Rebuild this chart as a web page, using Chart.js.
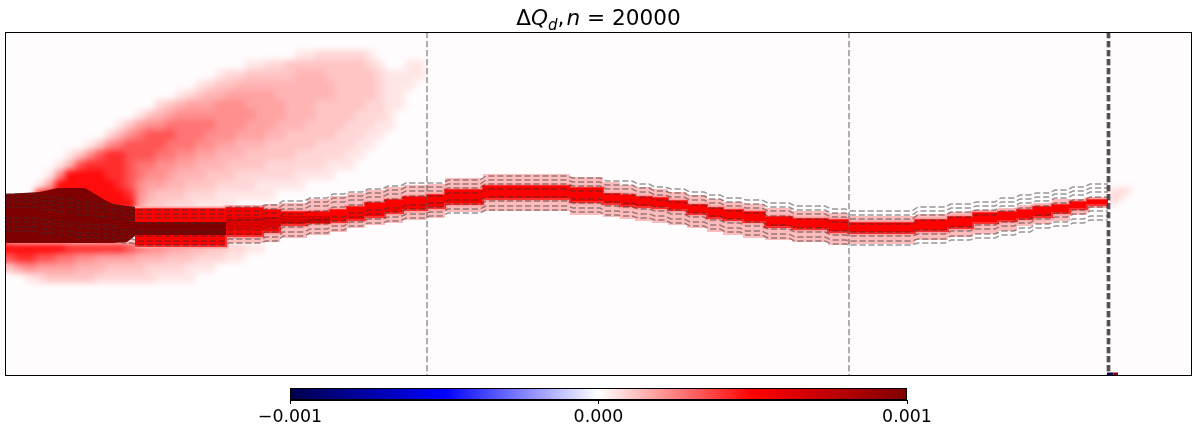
<!DOCTYPE html>
<html><head><meta charset="utf-8">
<style>
html,body{margin:0;padding:0;background:#fff;width:1193px;height:428px;overflow:hidden}
#main{position:absolute;left:0;top:0}
#bar{position:absolute;left:240px;top:380px}
#title{position:absolute;left:0;top:5px;width:1197px;text-align:center;font:21.6px "DejaVu Sans";color:#000;white-space:nowrap}
#title sub{font-size:15px;line-height:0;vertical-align:-5px}
#title i{font-style:italic}
#title i.n{margin-left:2px}
</style>
<script src="https://cdn.jsdelivr.net/npm/chart.js@4/dist/chart.umd.js"></script>
</head><body>
<canvas id="main" width="1193" height="428"></canvas>
<canvas id="bar" width="720" height="48"></canvas>
<div id="title">Δ<i>Q</i><sub><i>d</i></sub>,<i class="n">n</i> = 20000</div>
<script>
// ---- values (axis units: image-read x / depth y) ----
const xRange=[5,1192], yRange=[32,376];
// coarse intensity grid of the upper plume (level 0..10), one row per depth
const plumeX=[40,50,60,70,80,90,100,110,120,130,140,150,160,170,180,190,200,210,220,230,240,250,260,270,280,290,300,310,320,330,340,350,360,370,380,390,400,410,420,430];
const plumeY=[55,65,75,85,95,105,115,125,135,145,155,165,175,185,195,205];
const plumeGrid=[
[0,0,0,0,0,0,0,0,0,0,0,0,0,0,0,0,0,0,0,0,0,0,0,0,0,0,1,1,2,2,2,2,2,1,0,0,0,0,0,0],
[0,0,0,0,0,0,0,0,0,0,0,0,0,0,0,0,0,0,0,0,0,1,1,2,2,3,3,3,3,3,3,3,3,2,1,0,0,1,1,0],
[0,0,0,0,0,0,0,0,0,0,0,0,0,0,0,0,0,0,1,2,2,3,3,3,3,3,4,4,4,3,3,3,3,3,2,1,1,1,1,0],
[0,0,0,0,0,0,0,0,0,0,0,0,0,0,0,0,1,2,3,3,4,4,4,4,4,4,4,4,4,4,3,3,3,3,2,1,1,1,0,0],
[0,0,0,0,0,0,0,0,0,0,0,0,0,0,1,2,3,4,4,5,5,5,5,5,4,4,4,4,4,4,3,3,3,3,2,1,1,0,0,0],
[0,0,0,0,0,0,0,0,0,0,0,0,2,3,4,5,5,5,6,6,6,5,5,5,5,4,4,4,3,3,3,3,3,2,2,1,1,0,0,0],
[0,0,0,0,0,0,0,0,0,0,1,3,4,5,6,6,6,6,6,6,6,6,5,5,5,4,4,4,3,3,3,3,2,2,2,1,0,0,0,0],
[0,0,0,0,0,0,0,0,1,3,5,6,6,7,7,7,7,7,6,6,6,5,5,5,4,4,4,3,3,3,3,2,2,2,1,1,0,0,0,0],
[0,0,0,0,0,0,0,2,4,6,7,8,8,8,7,7,7,6,6,6,5,5,5,4,4,3,3,3,3,3,2,2,2,1,1,0,0,0,0,0],
[0,0,0,0,0,1,3,6,7,8,8,8,8,7,7,7,6,6,5,5,4,4,4,3,3,3,3,3,2,2,2,2,1,1,0,0,0,0,0,0],
[0,0,0,1,3,6,8,9,9,8,8,8,7,7,6,6,5,5,4,4,4,3,3,3,3,3,2,2,2,2,2,1,1,0,0,0,0,0,0,0],
[0,0,1,4,8,9,9,9,9,8,7,7,6,6,5,5,4,4,4,3,3,3,3,2,2,2,2,2,2,1,1,1,0,0,0,0,0,0,0,0],
[0,1,6,10,10,10,10,9,9,8,7,6,6,5,4,4,4,3,3,3,2,2,2,2,2,2,1,1,1,1,0,0,0,0,0,0,0,0,0,0],
[1,5,10,10,10,10,10,10,9,8,6,5,5,4,4,3,3,3,2,2,2,2,1,1,1,1,1,0,0,0,0,0,0,0,0,0,0,0,0,0],
[10,10,10,10,10,10,10,10,10,9,6,4,3,3,3,2,2,2,1,1,1,1,1,1,0,0,0,0,0,0,0,0,0,0,0,0,0,0,0,0],
[10,10,10,10,10,10,10,10,10,10,5,3,3,2,2,2,1,1,1,1,0,0,0,0,0,0,0,0,0,0,0,0,0,0,0,0,0,0,0,0]
];
// coarse intensity grid of the lower plume
const lowerX=[10,20,30,40,50,60,70,80,90,100,110,120,130,140,150,160,170,180,190,200,210,220,230,240,250,260];
const lowerY=[248,258,268,278];
const lowerGrid=[
[10,10,10,10,10,10,9,9,9,9,9,9,8,7,6,6,5,5,4,4,3,3,2,2,1,1],
[8,9,9,8,8,7,7,6,6,5,5,5,5,4,4,4,3,3,3,2,2,2,1,1,0,0],
[3,5,6,5,5,5,5,4,4,4,3,3,3,3,2,2,2,2,1,1,1,0,0,0,0,0],
[0,0,1,2,3,3,3,3,3,2,2,2,2,2,2,1,1,1,1,0,0,0,0,0,0,0]
];
const levelColors=['#fffcfd','#ffe6e6','#ffd6d6','#ffc4c4','#ffb4b4','#ffa2a2','#ff8e8e','#ff7474','#ff5454','#ff2e2e','#ff0c0c'];
// tail past the last bin
const tailX=[1108,1115,1123,1135];
const tailUp=[190,188,187,188];
const tailLo=[207,205,198,188];
// saturated blob at the left
const blobX=[5,40,58,85,95,105,113,127,135];
const blobTop=[194,192,188,188,194,200,204,206,207];
const blobBottom=[243,243,243,243,243,243,243,242,236];
// binned ridge
const coreX=[135,226,263,280,307,330,347,365,385,403,427,445,483,570,603,620,635,652,668,687,707,723,743,765,792,828,848,915,948,973,998,1017,1033,1052,1070,1087,1108];
const redTop=[209,208,210,212,212,210,207,203,200,197,195,190,186,188,194,195,197,198,201,205,208,210,212,217,219,220,223,220,217,213,212,210,207,205,202,200,200];
const redBottom=[246,236,232,225,223,222,220,217,213,210,208,204,199,202,204,206,207,208,210,214,218,220,222,227,229,232,233,231,228,223,221,219,217,213,209,205,205];
const pinkTop=[208,205,204,203,199,196,193,190,187,185,184,178,174,177,182,185,187,189,192,195,199,202,204,208,211,213,216,214,212,210,208,205,203,199,199,197,197];
const pinkBottom=[247,243,242,238,235,232,228,225,223,220,218,212,211,215,217,219,221,223,225,228,232,235,238,240,242,245,244,240,237,234,231,226,224,221,215,208,208];
const darkCoreX=[135,226];
const darkCoreTop=[222,222];
const darkCoreBottom=[235,235];
const deepCoreX=[226,263,280,330];
const deepCoreTop=[217,217,216,216];
const deepCoreBottom=[229,227,223,223];
// dashed contour lines
const dashX=[5,40,58,76,95,113,120,135,226,263,280,307,330,347,365,385,403,427,445,483,570,603,620,635,652,668,687,707,723,743,765,792,828,848,915,948,973,998,1017,1033,1052,1070,1087,1108];
const dash1=[194,197,199,202,204,205,207,210,207,205,201,198,194,192,189,186,183,183,180,176,178,181,181,184,187,189,192,195,198,200,203,206,209,211,207,204,202,198,195,193,190,187,184,184];
const dash2=[198,201,203,206,208,209,211,214,211,209,205,202,198,196,193,190,187,187,184,180,182,185,185,188,191,193,196,199,202,204,207,210,213,215,211,208,206,202,199,197,194,191,188,188];
const dash3=[202,205,207,210,212,213,215,218,215,213,209,206,202,200,197,194,191,191,188,184,186,189,189,192,195,197,200,203,206,208,211,214,217,219,215,212,210,206,203,201,198,195,192,192];
const dash4=[207,210,212,215,217,218,220,223,220,218,214,211,207,205,202,199,196,196,193,189,191,194,194,197,200,202,205,208,211,213,216,219,222,224,220,217,215,211,208,206,203,200,197,197];
const dash5=[218,220,222,224,225,227,230,232,230,228,223,220,217,213,210,208,205,203,200,197,199,202,203,205,207,210,213,216,219,222,225,228,231,232,230,227,225,222,219,215,213,210,207,207];
const dash6=[222,224,226,228,229,231,234,236,234,232,227,224,221,217,214,212,209,207,204,201,203,206,207,209,211,214,217,220,223,226,229,232,235,236,234,231,229,226,223,219,217,214,211,211];
const dash7=[227,229,231,233,234,236,239,241,239,237,232,229,226,222,219,217,214,212,209,206,208,211,212,214,216,219,222,225,228,231,234,237,240,241,239,236,234,231,228,224,222,219,216,216];
const dash8=[231,233,235,237,238,240,243,245,243,241,236,233,230,226,223,221,218,216,213,210,212,215,216,218,220,223,226,229,232,235,238,241,244,245,243,240,238,235,232,228,226,223,220,220];
// vertical markers
const markerX=[427,849];
const edgeMarkerX=[1107.5,1108.5,1109.5];
const navyTickX=[1107,1113.5], redTickX=[1113.5,1118], tickY=[374,374];
// colour bar
const barRange=[-0.001,0.001];
const barTicks=[-0.001,0,0.001];
const barLabels=['\u22120.001','0.000','0.001'];
const barStops=['#00004c','#0000ff','#ffffff','#ff0000','#800000'];

// ---- chart assembly ----
const ds=[];
function pts(xs,ys){return xs.map((x,i)=>({x,y:ys[i]}));}
function stairs(xs,ys){const o=[];xs.forEach((x,i)=>{if(i)o.push({x:x-3,y:ys[i-1]});o.push({x:x+(i&&i<xs.length-1?3:0),y:ys[i]});});return o;}
function line(xs,ys,extra){const d=Object.assign({data:pts(xs,ys),borderWidth:0,borderColor:'transparent',backgroundColor:'transparent',pointRadius:0,fill:false,tension:0,order:-ds.length},extra);ds.push(d);return d;}
function band(xs,t,b,color,extra){extra=extra||{};line(xs,t,extra);line(xs,b,Object.assign({},extra,{fill:'-1',backgroundColor:color}));}
function cells(xs,ys,grid){levelColors.forEach((col,lv)=>{if(!lv)return;const data=[];grid.forEach((row,r)=>row.forEach((v,c)=>{if(v===lv)data.push({x:xs[c],y:ys[r]});}));
 ds.push({data,showLine:false,pointStyle:'rect',pointRadius:7.2,pointBorderWidth:0,pointBackgroundColor:col,pointBorderColor:col,backgroundColor:col,borderColor:col,order:-ds.length});});}
// soft layers
cells(plumeX,plumeY,plumeGrid);
cells(lowerX,lowerY,lowerGrid);
band(tailX,tailUp,tailLo,'#ffdcdc');
const softCount=ds.length;
// ridge
band(coreX,pinkTop,pinkBottom,'#ffbcbc',{stepped:true});
band(coreX,redTop,redBottom,'#ff9e9e',{stepped:true,borderWidth:5,borderColor:'#ff9e9e'});
band(coreX,redTop,redBottom,'#ff0000',{stepped:true,borderWidth:2,borderColor:'#ff3030'});
band(deepCoreX,deepCoreTop,deepCoreBottom,'#d80000',{stepped:true});
band(darkCoreX,darkCoreTop,darkCoreBottom,'#7f0000',{stepped:true});
band(blobX,blobTop,blobBottom,'#7f0000');
// dashes
const dashStyle={borderWidth:1.4,borderColor:'rgba(50,50,50,.5)',borderDash:[6.2,2.8]};
[dash1,dash2,dash3,dash4,dash5,dash6,dash7,dash8].forEach(a=>{const d=line(dashX,a,dashStyle);d.data=stairs(dashX,a);});
markerX.forEach(x=>line([x,x],yRange,{borderWidth:1.5,borderColor:'rgba(90,90,90,.65)',borderDash:[6.2,2.8]}));
edgeMarkerX.forEach(x=>line([x,x],yRange,{borderWidth:1.8,borderColor:'rgba(60,60,60,.8)',borderDash:[6.2,2.8]}));
line(navyTickX,tickY,{borderWidth:3,borderColor:'#00004c'});
line(redTickX,tickY,{borderWidth:3,borderColor:'#7f0000'});

const softLayer={id:'softLayer',
 beforeDraw(c){const a=c.chartArea,x=c.ctx;x.save();x.fillStyle='#fffcfd';x.fillRect(a.left,a.top,a.width,a.height);x.restore();},
 afterDatasetDraw(c,args){if(args.index!==softCount-1)return;const a=c.chartArea,x=c.ctx;x.save();x.beginPath();x.rect(a.left,a.top,a.width,a.height);x.clip();x.filter='blur(3px)';x.drawImage(c.canvas,0,0);x.restore();},
 afterDraw(c){const a=c.chartArea,x=c.ctx;x.save();x.strokeStyle='#000';x.lineWidth=1;x.strokeRect(a.left+.5,a.top+.5,a.width-1,a.height-1);x.restore();}};

new Chart(document.getElementById('main'),{type:'line',data:{datasets:ds},plugins:[softLayer],options:{
 responsive:false,animation:false,events:[],
 layout:{autoPadding:false,padding:{left:5,right:1,top:32,bottom:52}},
 plugins:{legend:{display:false},tooltip:{enabled:false},filler:{propagate:false}},
 scales:{x:{type:'linear',display:false,min:xRange[0],max:xRange[1]},
         y:{type:'linear',display:false,reverse:true,min:yRange[0],max:yRange[1]}}}});

const barFrame={id:'barFrame',afterDraw(c){const a=c.chartArea,x=c.ctx;x.save();x.strokeStyle='#000';x.lineWidth=1;x.strokeRect(a.left+.5,a.top+.5,a.width-1,a.height-1);x.restore();}};
new Chart(document.getElementById('bar'),{type:'bar',plugins:[barFrame],
 data:{labels:['\u0394Q'],datasets:[{data:[barRange],barPercentage:1,categoryPercentage:1,borderWidth:0,
  backgroundColor(ctx){const a=ctx.chart.chartArea;if(!a)return '#fff';const g=ctx.chart.ctx.createLinearGradient(a.left,0,a.right,0);barStops.forEach((c,i)=>g.addColorStop(i/(barStops.length-1),c));return g;}}]},
 options:{indexAxis:'y',responsive:false,animation:false,events:[],
 layout:{padding:{left:50,right:53,top:8,bottom:0}},
 plugins:{legend:{display:false},tooltip:{enabled:false}},
 scales:{y:{display:false},
  x:{type:'linear',min:barRange[0],max:barRange[1],
   afterBuildTicks(ax){ax.ticks=barTicks.map(v=>({value:v}));},
   afterFit(ax){ax.height=28;},
   grid:{drawOnChartArea:false,drawTicks:true,tickLength:4,tickColor:'#000'},border:{color:'#000'},
   ticks:{color:'#000',maxRotation:0,autoSkip:false,padding:3,font:{family:'"DejaVu Sans"',size:17.4},
    callback(v){return barLabels[barTicks.indexOf(v)];}}}}}});
</script>
</body></html>
